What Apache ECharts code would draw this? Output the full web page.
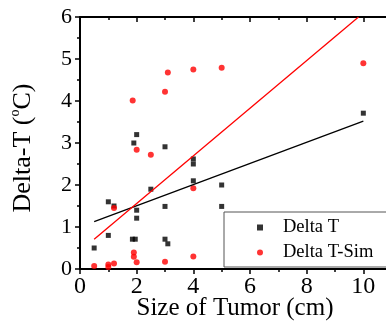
<!DOCTYPE html>
<html>
<head>
<meta charset="utf-8">
<script src="https://cdn.jsdelivr.net/npm/echarts@6/dist/echarts.min.js"></script>
<style>
  html, body { margin: 0; padding: 0; background: #fff; }
  #chart { width: 386px; height: 325px; }
</style>
</head>
<body>
<div id="chart"></div>
<script>
// measured points
const deltaTX = [0.5, 1, 1, 1.2, 1.9, 2, 2, 2, 1.85, 1.95, 2.5, 3, 3, 3, 3.1, 4, 4, 4, 5, 5, 10];
const deltaTY = [0.5, 1.6, 0.8, 1.5, 3.0, 3.2, 1.4, 1.21, 0.71, 0.71, 1.9, 2.91, 1.49, 0.71, 0.6, 2.62, 2.5, 2.1, 2.0, 1.49, 3.71];

const simX = [0.5, 1, 1, 1.2, 1.2, 1.86, 1.9, 1.9, 2, 2, 2.5, 3, 3.1, 3, 4, 4, 4, 5, 10];
const simY = [0.07, 0.11, 0.05, 0.13, 1.45, 4.01, 0.39, 0.29, 0.16, 2.84, 2.72, 4.22, 4.68, 0.17, 4.75, 1.92, 0.3, 4.79, 4.9];

// linear fits (end points)
const fitTX = [0.5, 10];
const fitTY = [1.13, 3.52];
const fitSimX = [0.5, 9.83];
const fitSimY = [0.71, 6.0];

const FONT = "Liberation Serif";
const zip = (xs, ys) => xs.map((x, i) => [x, ys[i]]);

var myChart = echarts.init(document.getElementById("chart"));

var option = {
  animation: false,
  backgroundColor: "#fff",
  grid: { left: 80, top: 17, right: -34, bottom: 56, containLabel: false, outerBoundsMode: "none" },
  legend: {
    data: [
      { name: "Delta T", icon: "rect" },
      { name: "Delta T-Sim", icon: "circle" },
    ],
    orient: "vertical",
    left: 224,
    top: 212,
    itemWidth: 6,
    itemHeight: 6,
    itemGap: 6,
    padding: [6, 40, 5, 33],
    borderColor: "#555",
    borderWidth: 1,
    textStyle: { fontFamily: FONT, fontSize: 18.5, color: "#000", padding: [0, 0, 0, 15] },
  },
  xAxis: [
    {
      type: "value",
      min: 0,
      max: 12,
      interval: 2,
      name: "Size of Tumor (cm)",
      nameLocation: "middle",
      nameGap: 27,
      nameMoveOverlap: false,
      nameTextStyle: { fontFamily: FONT, fontSize: 25, color: "#000", padding: [0, 30, 0, 0] },
      axisLine: { show: true, lineStyle: { color: "#000", width: 2 } },
      axisTick: { show: true, length: 5, lineStyle: { color: "#000", width: 1.5 } },
      minorTick: { show: true, splitNumber: 2, length: 3, lineStyle: { color: "#000", width: 1.5 } },
      axisLabel: {
        fontFamily: FONT, fontSize: 24, color: "#000", margin: 6,
        formatter: (v) => (v > 10 ? "" : String(v)),
      },
      splitLine: { show: false },
    },
    {
      type: "value",
      position: "top",
      min: 0,
      max: 12,
      interval: 2,
      axisLine: { show: true, lineStyle: { color: "#000", width: 2 } },
      axisTick: { show: true, inside: true, length: 5, lineStyle: { color: "#000", width: 1.5 } },
      minorTick: { show: true, splitNumber: 2, length: 3, lineStyle: { color: "#000", width: 1.5 } },
      axisLabel: { show: false },
      splitLine: { show: false },
    },
  ],
  yAxis: {
    type: "value",
    min: 0,
    max: 6,
    interval: 1,
    name: "{a|Delta-T (}{s|o}{a|C)}",
    nameLocation: "middle",
    nameGap: 44,
    nameRotate: 90,
    nameMoveOverlap: false,
    nameTextStyle: {
      color: "#000",
      padding: [0, 10, 0, 0],
      rich: {
        a: { fontFamily: FONT, fontSize: 26, color: "#000", verticalAlign: "bottom" },
        s: { fontFamily: FONT, fontSize: 14, color: "#000", verticalAlign: "bottom", padding: [0, 0, 14, 0] },
      },
    },
    axisLine: { show: true, lineStyle: { color: "#000", width: 2 } },
    axisTick: { show: true, length: 5, lineStyle: { color: "#000", width: 1.5 } },
    minorTick: { show: true, splitNumber: 2, length: 3, lineStyle: { color: "#000", width: 1.5 } },
    axisLabel: { fontFamily: FONT, fontSize: 22, color: "#000", margin: 8 },
    splitLine: { show: false },
  },
  series: [
    {
      name: "Delta T",
      type: "scatter",
      symbol: "rect",
      symbolSize: 5,
      itemStyle: { color: "#000" },
      data: zip(deltaTX, deltaTY),
    },
    {
      name: "Delta T-Sim",
      type: "scatter",
      symbol: "circle",
      symbolSize: 6,
      itemStyle: { color: "#ff0000" },
      data: zip(simX, simY),
    },
    {
      type: "line",
      showSymbol: false,
      symbol: "none",
      silent: true,
      lineStyle: { color: "#000", width: 1.3 },
      data: zip(fitTX, fitTY),
    },
    {
      type: "line",
      showSymbol: false,
      symbol: "none",
      silent: true,
      lineStyle: { color: "#ff0000", width: 1.3 },
      data: zip(fitSimX, fitSimY),
    },
  ],
};

option && myChart.setOption(option);
</script>
</body>
</html>
